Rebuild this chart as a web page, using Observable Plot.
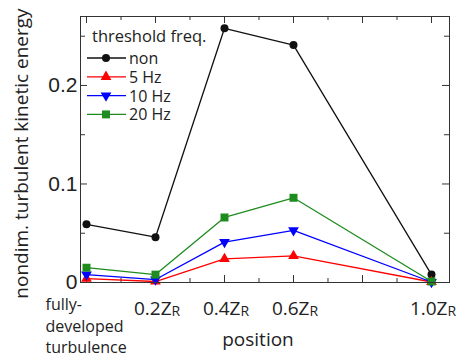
<!DOCTYPE html>
<html><head><meta charset="utf-8">
<script src="https://cdn.jsdelivr.net/npm/d3@7"></script>
<script src="https://cdn.jsdelivr.net/npm/@observablehq/plot@0.6"></script>
<style>body{margin:0;background:#fff}</style>
</head><body><div id="chart"></div>
<script>
// ---- data ----
const positions = [0, 0.2, 0.4, 0.6, 1.0];
const seriesNames = ["non", "5 Hz", "10 Hz", "20 Hz"];
const nonValues  = [0.059, 0.046, 0.258, 0.241, 0.008];
const hz5Values  = [0.004, 0.001, 0.024, 0.027, 0.0005];
const hz10Values = [0.008, 0.003, 0.041, 0.053, 0.0005];
const hz20Values = [0.015, 0.008, 0.066, 0.086, 0.001];
const xTickLabelMain = ["0.2Z", "0.4Z", "0.6Z", "1.0Z"];
const xTickLabelPos = [0.2, 0.4, 0.6, 1.0];
const xFirstLabel = "fully-\ndeveloped\nturbulence";
const yTickLabels = [0, 0.1, 0.2];
const yMajorTicks = [0, 0.1, 0.2];
const yMinorTicks = [0.05, 0.15, 0.25];
const xMajorTicks = [0, 0.2, 0.4, 0.6, 0.8, 1.0];
const xMinorTicks = [0.1, 0.3, 0.5, 0.7, 0.9];
const yLabel = "nondim. turbulent kinetic energy";
const xLabel = "position";
const legendTitle = "threshold freq.";

// ---- styles ----
const colors = ["#111111", "#ff0000", "#0000ff", "#1e8c1e"];
const triangleDown = {
  draw(context, size) {
    const s3 = Math.sqrt(3);
    const y = -Math.sqrt(size / (s3 * 3));
    context.moveTo(0, -y * 2);
    context.lineTo(-s3 * y, y);
    context.lineTo(s3 * y, y);
    context.closePath();
  }
};
const symbols = ["circle", "triangle", triangleDown, "square"];
const radii = [4, 4, 4, 4.5];
const seriesValues = [nonValues, hz5Values, hz10Values, hz20Values];

const W = 462, H = 361, mL = 80, mR = 13, mT = 16, mB = 79;
const innerW = W - mL - mR, innerH = H - mT - mB;
const font = "'Open Sans', sans-serif";

const rows = seriesValues.map((vals, si) =>
  positions.map((p, i) => ({series: seriesNames[si], x: p, y: vals[i]})));

const seriesMarks = [];
rows.forEach((data, si) => {
  seriesMarks.push(Plot.line(data, {x: "x", y: "y", stroke: colors[si], strokeWidth: 1.3}));
  seriesMarks.push(Plot.dot(data, {x: "x", y: "y", fill: colors[si], stroke: "none", symbol: symbols[si], r: radii[si]}));
});

const chart = Plot.plot({
  width: W, height: H,
  marginLeft: mL, marginRight: mR, marginTop: mT, marginBottom: mB,
  style: {fontFamily: font, background: "#fff", color: "#222"},
  x: {domain: [-0.0174, 1.0522], axis: null},
  y: {domain: [0, 0.27], axis: null},
  marks: [
    // inward ticks
    Plot.tickY(yMajorTicks, {y: d => d, stroke: "#333", insetRight: innerW - 7}),
    Plot.tickY(yMinorTicks, {y: d => d, stroke: "#333", insetRight: innerW - 5}),
    Plot.tickY(yMajorTicks, {y: d => d, stroke: "#333", insetLeft: innerW - 7}),
    Plot.tickY(yMinorTicks, {y: d => d, stroke: "#333", insetLeft: innerW - 5}),
    Plot.tickX(xMajorTicks, {x: d => d, stroke: "#333", insetTop: innerH - 7}),
    Plot.tickX(xMinorTicks, {x: d => d, stroke: "#333", insetTop: innerH - 4}),
    Plot.tickX(xMajorTicks, {x: d => d, stroke: "#333", insetBottom: innerH - 7}),
    Plot.tickX(xMinorTicks, {x: d => d, stroke: "#333", insetBottom: innerH - 4}),
    ...seriesMarks,
    Plot.frame({stroke: "#333", strokeWidth: 1}),
    // y tick labels
    Plot.text(yTickLabels, {y: d => d, frameAnchor: "left", textAnchor: "end", dx: -3,
      text: d => d === 0 ? "0" : d3.format(".1f")(d), fontSize: 21,
      fontFamily: "'Liberation Sans', Arial, sans-serif", fill: "#222"}),
    // x tick labels
    Plot.text(xTickLabelPos, {x: d => d, frameAnchor: "bottom", textAnchor: "end", dx: 16, dy: 32,
      text: (d, i) => xTickLabelMain[i], fontSize: 19, fill: "#222"}),
    Plot.text(xTickLabelPos, {x: d => d, frameAnchor: "bottom", textAnchor: "start", dx: 16, dy: 33.5,
      text: () => "R", fontSize: 14, fill: "#222"}),
    Plot.text([0], {x: d => d, frameAnchor: "bottom", textAnchor: "start", lineAnchor: "top",
      dx: -41, dy: 12.5, lineHeight: 1.34, text: () => xFirstLabel, fontSize: 16, fill: "#222"}),
    // axis labels
    Plot.text([yLabel], {frameAnchor: "left", textAnchor: "middle", rotate: -90, dx: -59, dy: 4, text: d => d,
      fontSize: 19, fill: "#222"}),
    Plot.text([xLabel], {frameAnchor: "bottom", textAnchor: "middle", dx: -7, dy: 63, text: d => d, fontSize: 19, fill: "#222"})
  ]
});

document.getElementById("chart").appendChild(chart);

// ---- legend (inside plot, top-left) ----
const svg = d3.select(chart);
const lg = svg.append("g").attr("font-family", font).attr("text-anchor", "start");
lg.append("text").attr("x", 92).attr("y", 42).attr("font-size", 16.5).attr("fill", "#222").text(legendTitle);
seriesNames.forEach((name, i) => {
  const ly = 58 + i * 18.8;
  lg.append("line").attr("x1", 87).attr("x2", 126).attr("y1", ly).attr("y2", ly)
    .attr("stroke", colors[i]).attr("stroke-width", 1.3);
  const sym = typeof symbols[i] === "string"
    ? {circle: d3.symbolCircle, triangle: d3.symbolTriangle, square: d3.symbolSquare}[symbols[i]]
    : symbols[i];
  lg.append("path").attr("transform", `translate(106,${ly})`)
    .attr("d", d3.symbol(sym, Math.PI * radii[i] * radii[i])())
    .attr("fill", colors[i]);
  lg.append("text").attr("x", 129).attr("y", ly + 6).attr("font-size", 16).attr("fill", "#222").text(name);
});
</script>
</body></html>
